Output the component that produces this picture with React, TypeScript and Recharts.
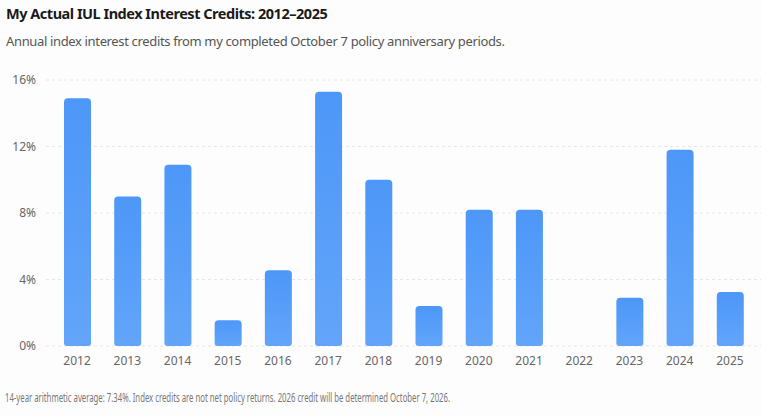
import React from 'react';
import { BarChart, Bar, XAxis, YAxis, CartesianGrid } from 'recharts';

// Policy anniversary years and the index credit (%) for each
const years = ['2012', '2013', '2014', '2015', '2016', '2017', '2018', '2019', '2020', '2021', '2022', '2023', '2024', '2025'];
const credits = [14.9, 9.0, 10.9, 1.55, 4.55, 15.3, 10.0, 2.4, 8.2, 8.2, 0, 2.9, 11.8, 3.25];
const yTicks = [0, 4, 8, 12, 16];

const data = years.map((year, i) => ({ year, credit: credits[i] }));

const FONT = '"Noto Sans", "Open Sans", sans-serif';

const App: React.FC = () => {
    return (
        <div style={{ position: 'relative', width: 761, height: 416, background: '#fdfdfd', fontFamily: FONT, overflow: 'hidden' }}>
            <style>{`body { margin: 0; }`}</style>
            <div style={{ position: 'absolute', left: 6, top: 3, fontSize: 14.5, fontWeight: 700, letterSpacing: -0.48, color: '#1a1a1a', whiteSpace: 'nowrap' }}>
                My Actual IUL Index Interest Credits: 2012–2025
            </div>
            <div style={{ position: 'absolute', left: 6, top: 32, fontSize: 13, letterSpacing: -0.35, color: '#555', whiteSpace: 'nowrap' }}>
                Annual index interest credits from my completed October 7 policy anniversary periods.
            </div>

            <div style={{ position: 'absolute', left: 0, top: 70 }}>
                <BarChart width={761} height={306} data={data} margin={{ top: 10, right: 0, left: 0, bottom: 0 }}>
                    <defs>
                        <linearGradient id="barFill" x1="0" y1="0" x2="0" y2="1">
                            <stop offset="0%" stopColor="#4d97f8" />
                            <stop offset="100%" stopColor="#62a5fa" />
                        </linearGradient>
                    </defs>
                    <CartesianGrid vertical={false} strokeDasharray="3 3" stroke="#e6e6e6" />
                    <XAxis
                        dataKey="year"
                        axisLine={false}
                        tickLine={false}
                        tick={{ fill: '#666', fontSize: 12, fontFamily: FONT }}
                        tickMargin={4}
                        interval={0}
                        padding={{ left: 6, right: 6 }}
                        height={30}
                    />
                    <YAxis
                        domain={[0, 16]}
                        ticks={yTicks}
                        axisLine={false}
                        tickLine={false}
                        tick={{ fill: '#666', fontSize: 12, fontFamily: FONT }}
                        tickFormatter={(v: number) => `${v}%`}
                        tickMargin={4}
                        width={46}
                    />
                    <Bar dataKey="credit" fill="url(#barFill)" barSize={27} radius={[4, 4, 3, 3]} isAnimationActive={false} />
                </BarChart>
            </div>

            <div
                style={{
                    position: 'absolute', left: 5, top: 389, fontSize: 12.5, color: '#777', whiteSpace: 'nowrap',
                    transform: 'scaleX(0.62)', transformOrigin: 'left center',
                }}
            >
                14-year arithmetic average: 7.34%. Index credits are not net policy returns. 2026 credit will be determined October 7, 2026.
            </div>
        </div>
    );
};

export default App;
